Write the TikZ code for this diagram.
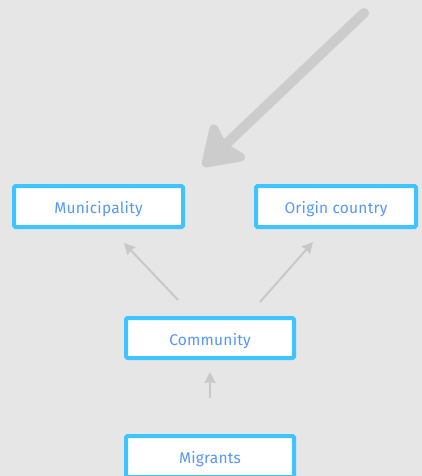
\documentclass[tikz,border=0pt]{standalone}
\usepackage{fontspec}
\setmainfont{Fira Sans}
\usetikzlibrary{arrows.meta}
\definecolor{bg}{RGB}{230,230,230}
\definecolor{boxline}{RGB}{64,196,255}
\definecolor{boxtext}{RGB}{85,152,248}
\definecolor{arrowgray}{RGB}{200,200,200}
\definecolor{bigarrow}{RGB}{204,204,204}
\tikzset{
  box/.style={draw=boxline, line width=4pt, fill=white, rounded corners=1.5pt,
    text=boxtext, font=\fontsize{15.5}{17}\selectfont\addfontfeatures{LetterSpace=1.5},
    inner sep=0pt, text height=14pt, text depth=0pt},
  thin arrow/.style={draw=arrowgray, line width=2pt, -{Stealth[length=11pt,width=11pt,inset=1pt]}},
  big arrow/.style={draw=bigarrow, line width=10pt, line cap=round,
    -{Stealth[length=44pt,width=58pt,inset=8pt,round]}}
}
\begin{document}
\begin{tikzpicture}[x=1pt,y=-1pt]
  \fill[bg] (0,0) rectangle (422,476);
  \useasboundingbox (0,0) rectangle (422,476);
  \clip (0,0) rectangle (422,476);
  \node[box, minimum width=169pt, minimum height=41pt] (muni) at (98.5,206.5) {Municipality};
  \node[box, minimum width=160pt, minimum height=41pt] (origin) at (336,206.5) {Origin country};
  \node[box, minimum width=168pt, minimum height=40pt] (comm) at (210,338) {Community};
  \node[box, minimum width=168pt, minimum height=41pt] (migr) at (210,456.5) {Migrants};
  \coordinate (bigtail) at (364,13);
  \coordinate (bigtip) at (203,166);
  \draw[big arrow] (bigtail) -- (bigtip);
  \draw[thin arrow] ([xshift=-32pt,yshift=16pt]comm.north) -- ([xshift=25.5pt,yshift=-14pt]muni.south);
  \draw[thin arrow] ([xshift=50pt,yshift=14pt]comm.north) -- ([xshift=-23pt,yshift=-13pt]origin.south);
  \draw[thin arrow] ([yshift=36pt]migr.north) -- ([yshift=-12pt]comm.south);
\end{tikzpicture}
\end{document}
